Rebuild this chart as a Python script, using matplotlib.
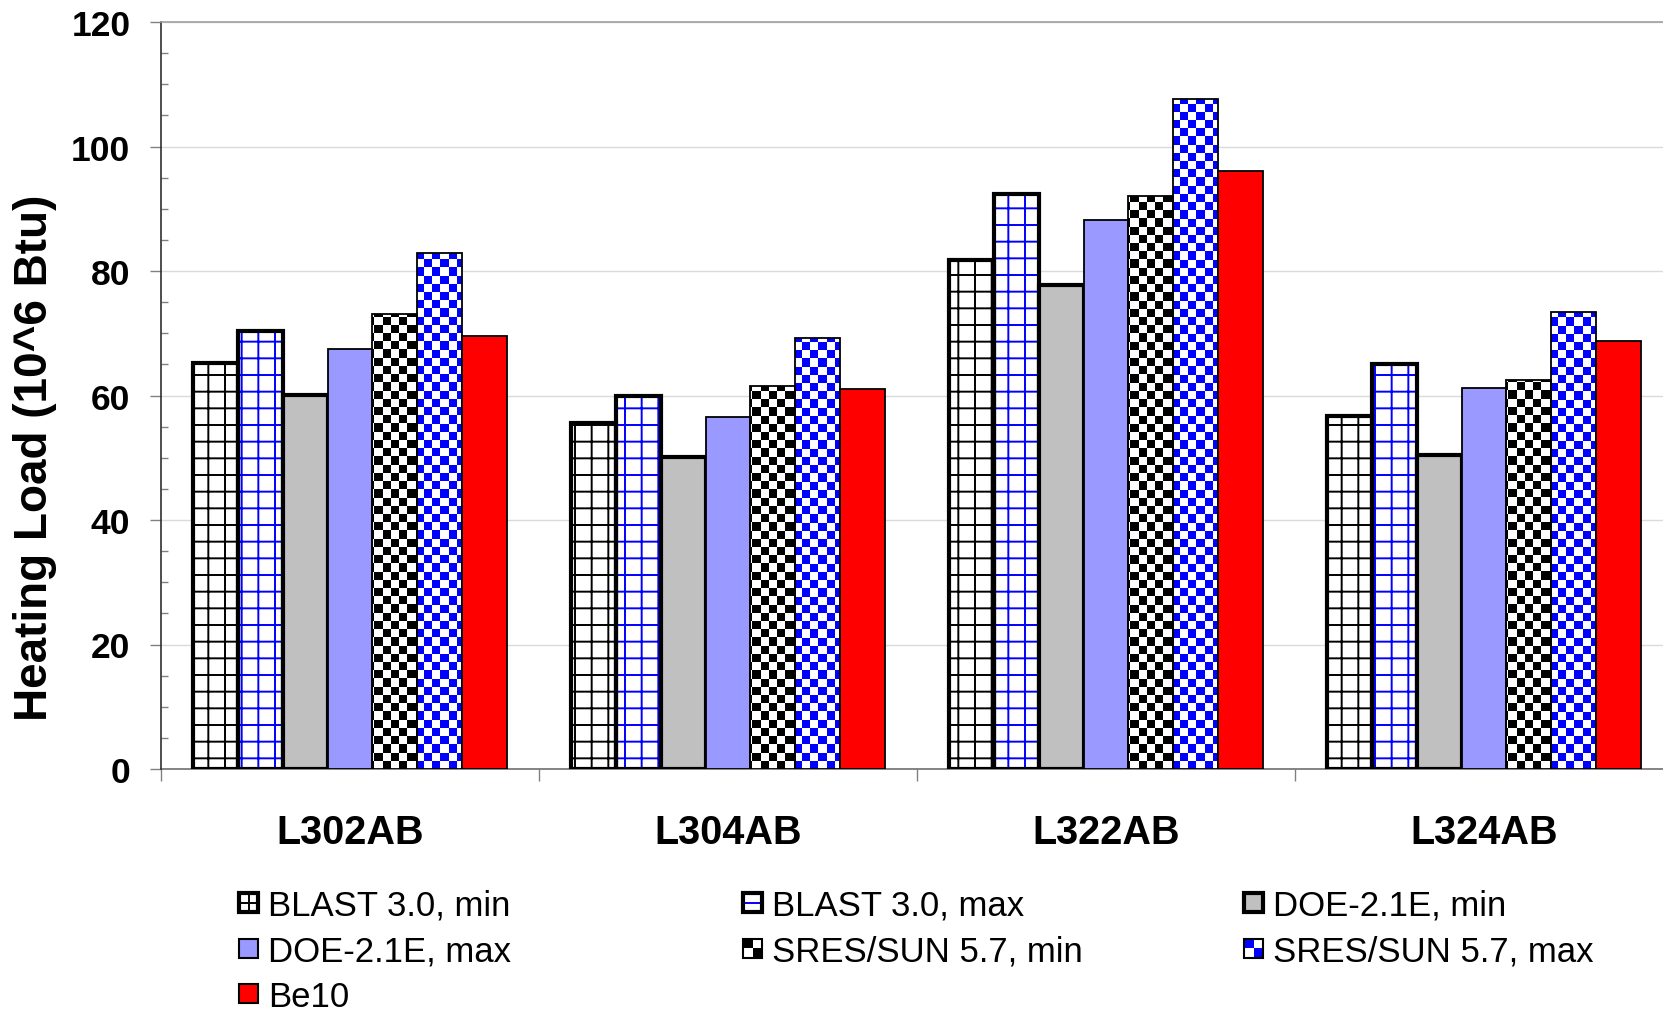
import numpy as np
import matplotlib
matplotlib.use("Agg")
import matplotlib.pyplot as plt
from matplotlib.colors import ListedColormap
from matplotlib.patches import Rectangle
from matplotlib.lines import Line2D
from matplotlib.legend_handler import HandlerBase
from matplotlib.ticker import MultipleLocator, FixedLocator, NullFormatter

plt.rcParams['font.family'] = ['Liberation Sans', 'DejaVu Sans']
plt.rcParams['hatch.linewidth'] = 1.4

# ---------------- data ----------------
categories = ["L302AB", "L304AB", "L322AB", "L324AB"]
series_names = ["BLAST 3.0, min", "BLAST 3.0, max", "DOE-2.1E, min",
                "DOE-2.1E, max", "SRES/SUN 5.7, min", "SRES/SUN 5.7, max", "Be10"]
blast_min = [65.2, 55.6, 81.8, 56.7]
blast_max = [70.4, 60.0, 92.4, 65.0]
doe_min   = [60.1, 50.1, 77.7, 50.4]
doe_max   = [67.5, 56.6, 88.2, 61.2]
sres_min  = [73.1, 61.6, 92.1, 62.5]
sres_max  = [82.9, 69.2, 107.7, 73.4]
be10      = [69.5, 61.0, 96.0, 68.7]
y_ticks = [0, 20, 40, 60, 80, 100, 120]

series_values = [blast_min, blast_max, doe_min, doe_max, sres_min, sres_max, be10]

# ---------------- styles ----------------
# kind, face, accent, edge linewidth
styles = [
    ("grid", "white", "black", 3.0),
    ("grid", "white", "#0000FF", 3.0),
    ("solid", "#C0C0C0", None, 3.0),
    ("solid", "#9999FF", None, 1.3),
    ("checker", "white", "black", 1.3),
    ("checker", "white", "#0000FF", 1.3),
    ("solid", "#FF0000", None, 1.3),
]

W, H, DPI = 16.63, 10.12, 100
fig = plt.figure(figsize=(W, H), dpi=DPI)
ax_left, ax_bottom = 161 / 1663, 1 - 770 / 1012
ax_w, ax_h = 1512 / 1663, (770 - 23) / 1012
ax = fig.add_axes([ax_left, ax_bottom, ax_w, ax_h])

XL = (-0.5, len(categories) - 0.5)
YL = (0, 120)

x = np.arange(len(categories))
group_w = 0.829
bw = group_w / len(series_names)

# checkerboard arrays (8 px squares)
px_w = W * DPI * ax_w
px_h = H * DPI * ax_h
nc, nr = int(round(px_w / 8.2)), int(round(px_h / 8.2))
checker = (np.add.outer(np.arange(nr), np.arange(nc)) % 2).astype(float)

for j, (vals, st) in enumerate(zip(series_values, styles)):
    kind, face, accent, lw = st
    pos = x + (j - (len(series_names) - 1) / 2) * bw
    if kind == "grid":
        ax.bar(pos, vals, bw, color=face, edgecolor=accent, hatch="+",
               linewidth=0, zorder=2)
        ax.bar(pos, vals, bw, facecolor="none", edgecolor="black",
               linewidth=lw, zorder=3)
    elif kind == "checker":
        bars = ax.bar(pos, vals, bw, facecolor="none", edgecolor="black",
                      linewidth=lw, zorder=3)
        cmap = ListedColormap([face, accent])
        for p in bars.patches:
            im = ax.imshow(checker, extent=(XL[0], XL[1], YL[0], YL[1]),
                           aspect="auto", interpolation="nearest", cmap=cmap,
                           vmin=0, vmax=1, zorder=2)
            im.set_clip_path(p)
    else:
        ax.bar(pos, vals, bw, color=face, edgecolor="black", linewidth=lw,
               zorder=3)

ax.set_xlim(*XL)
ax.set_ylim(*YL)

# grid & spines
ax.set_yticks(y_ticks)
ax.yaxis.grid(True, color="#DADADA", linewidth=1.0, zorder=0)
ax.set_axisbelow(True)
ax.spines["right"].set_visible(False)
ax.spines["top"].set_color("#A0A0A0")
ax.spines["top"].set_linewidth(1.2)
ax.spines["left"].set_color("#303030")
ax.spines["left"].set_linewidth(1.2)
ax.spines["bottom"].set_color("#707070")
ax.spines["bottom"].set_linewidth(1.2)
ax.spines["bottom"].set_zorder(1)

# y ticks
ax.yaxis.set_minor_locator(MultipleLocator(5))
ax.tick_params(axis="y", which="major", direction="out", length=8, width=1,
               color="#808080", pad=14, labelsize=25.5)
ax.tick_params(axis="y", which="minor", direction="in", length=5, width=1,
               color="#808080")
for t in ax.get_yticklabels():
    t.set_fontweight("bold")

# x ticks: separators at boundaries, labels at centers
ax.xaxis.set_major_locator(FixedLocator(np.arange(len(categories)) - 0.5))
ax.xaxis.set_major_formatter(NullFormatter())
ax.xaxis.set_minor_locator(FixedLocator(x))
ax.set_xticklabels(categories, minor=True)
ax.tick_params(axis="x", which="major", direction="out", length=8.6, width=1,
               color="#808080")
ax.tick_params(axis="x", which="minor", length=0, pad=31.5, labelsize=28.5)
for t in ax.get_xticklabels(minor=True):
    t.set_fontweight("bold")

fig.text(35 / 1663, 1 - 458 / 1012, "Heating Load (10^6 Btu)", rotation=90,
         fontsize=33, fontweight="bold", ha="center", va="center")


# ---------------- legend ----------------
class SwatchHandler(HandlerBase):
    def __init__(self, st):
        super().__init__()
        self.st = st

    def create_artists(self, legend, orig_handle, xdescent, ydescent, width,
                       height, fontsize, trans):
        kind, face, accent, lw = self.st
        s = min(width, height)
        x0 = -xdescent + (width - s) / 2
        y0 = -ydescent + (height - s) / 2
        arts = [Rectangle((x0, y0), s, s, facecolor=face, edgecolor="none",
                          transform=trans)]
        if kind == "grid" and accent == "black":
            arts.append(Line2D([x0 + s / 2, x0 + s / 2], [y0, y0 + s],
                               color=accent, lw=1.4, transform=trans))
            arts.append(Line2D([x0, x0 + s], [y0 + s / 2, y0 + s / 2],
                               color=accent, lw=1.4, transform=trans))
        elif kind == "grid":
            arts.append(Line2D([x0, x0 + s], [y0 + s / 2, y0 + s / 2],
                               color=accent, lw=1.4, transform=trans))
        elif kind == "checker":
            arts.append(Rectangle((x0, y0 + s / 2), s / 2, s / 2,
                                  facecolor=accent, edgecolor="none",
                                  transform=trans))
            arts.append(Rectangle((x0 + s / 2, y0), s / 2, s / 2,
                                  facecolor=accent, edgecolor="none",
                                  transform=trans))
        edge_lw = 3.0 if lw > 2 else 1.5
        arts.append(Rectangle((x0, y0), s, s, facecolor="none",
                              edgecolor="black", linewidth=edge_lw,
                              transform=trans))
        return arts


handles = [Rectangle((0, 0), 1, 1) for _ in series_names]
handler_map = {h: SwatchHandler(st) for h, st in zip(handles, styles)}

col_x = [239 / 1663, 743 / 1663, 1244 / 1663]
top_y = 1 - 890 / 1012
for c in range(3):
    idx = list(range(c, len(series_names), 3))
    fig.legend([handles[i] for i in idx], [series_names[i] for i in idx],
               handler_map=handler_map, loc="upper left",
               bbox_to_anchor=(col_x[c], top_y), frameon=False, fontsize=25,
               handlelength=0.55, handleheight=0.55, handletextpad=0.28,
               labelspacing=0.36, borderpad=0, borderaxespad=0)

fig.savefig("out.png", dpi=DPI)
